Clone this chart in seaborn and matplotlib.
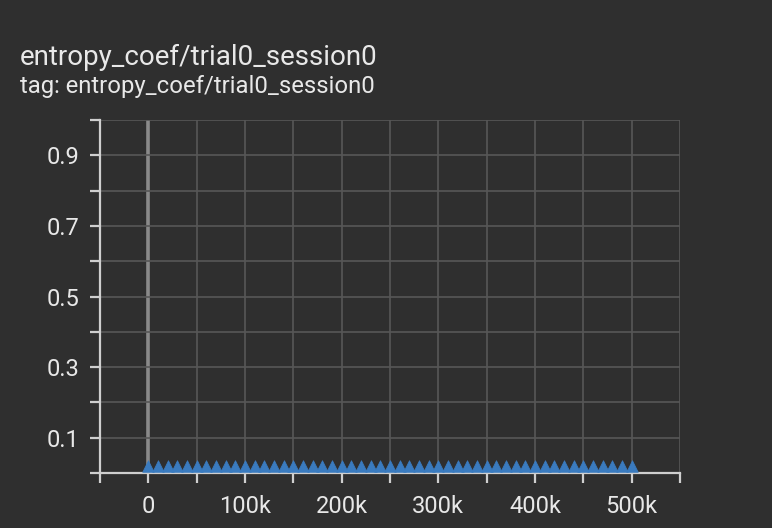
import numpy as np
import pandas as pd
import matplotlib
matplotlib.use("Agg")
import matplotlib.pyplot as plt
import seaborn as sns

# Data
steps = list(range(0, 500001, 10000))
values = [0.02] * len(steps)
x_tick_vals = list(range(-50000, 550001, 50000))
x_tick_labels = ["" if (v % 100000 or v < 0) else ("0" if v == 0 else f"{v//1000}k") for v in x_tick_vals]
y_tick_vals = [round(0.1 * i, 1) for i in range(0, 11)]
y_tick_labels = [f"{v:.1f}" if (round(v * 10) % 2 == 1) else "" for v in y_tick_vals]

title = "entropy_coef/trial0_session0"
subtitle = "tag: entropy_coef/trial0_session0"

bg = "#2f2f2f"
txt = "#e8e8e8"
grid_c = "#575757"
spine_c = "#cfcfcf"

sns.set_theme(style="dark")
plt.rcParams["font.family"] = ["Roboto", "DejaVu Sans"]

fig = plt.figure(figsize=(7.72, 5.28), dpi=100, facecolor=bg)
ax = fig.add_axes([100 / 772, 1 - 473 / 528, 580 / 772, 353 / 528])
ax.set_facecolor(bg)

df = pd.DataFrame({"step": steps, "value": values})

ax.set_xlim(-50000, 550000)
ax.set_ylim(0, 1)
ax.set_xticks(x_tick_vals)
ax.set_xticklabels(x_tick_labels)
ax.set_yticks(y_tick_vals)
ax.set_yticklabels(y_tick_labels)

for v in x_tick_vals:
    if v == -50000:
        continue
    if v == 0:
        ax.axvline(v, color="#8a8a8a", lw=2.6, zorder=1)
    else:
        ax.axvline(v, color=grid_c, lw=1.2, zorder=1)
for v in y_tick_vals[1:]:
    ax.axhline(v, color=grid_c, lw=1.2, zorder=1)

sns.scatterplot(data=df, x="step", y="value", marker="^", s=70,
                color="#3a7bbf", edgecolor="#3a7bbf", linewidth=0.5,
                ax=ax, zorder=3, clip_on=False)

ax.grid(False)
for side in ["top", "right"]:
    ax.spines[side].set_visible(False)
for side in ["left", "bottom"]:
    ax.spines[side].set_visible(True)
    ax.spines[side].set_color(spine_c)
    ax.spines[side].set_linewidth(1.6)

ax.tick_params(axis="both", colors=spine_c, length=7, width=1.6,
               labelcolor=txt, labelsize=17, bottom=True, left=True)
ax.tick_params(axis="y", pad=8)
ax.tick_params(axis="x", pad=9)
ax.set_xlabel("")
ax.set_ylabel("")

fig.text(20 / 772, 1 - 57 / 528, title, color=txt, fontsize=20, ha="left", va="center")
fig.text(20 / 772, 1 - 86 / 528, subtitle, color=txt, fontsize=17.2, ha="left", va="center")

fig.savefig("out.png", dpi=100, facecolor=bg)
